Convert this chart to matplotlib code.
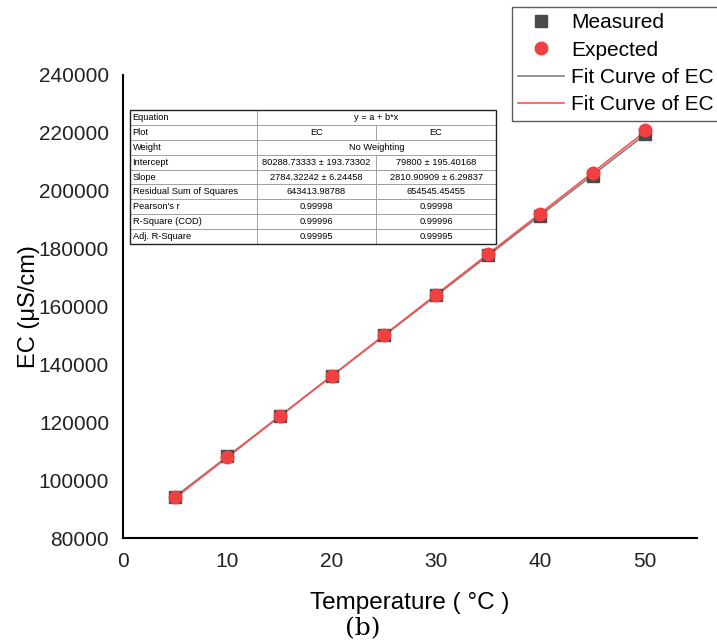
import numpy as np
import matplotlib.pyplot as plt

plt.rcParams['font.family'] = ['Liberation Sans', 'DejaVu Sans']

temperature = [5, 10, 15, 20, 25, 30, 35, 40, 45, 50]
measured = [94200, 108200, 122000, 136000, 150000, 163900, 177800, 191400, 205000, 219600]
expected = [94000, 108000, 122000, 136000, 150000, 164000, 178000, 192000, 206000, 221000]

table_rows = ['Equation', 'Plot', 'Weight', 'Intercept', 'Slope',
              'Residual Sum of Squares', "Pearson's r", 'R-Square (COD)', 'Adj. R-Square']
table_col1 = ['y = a + b*x', 'EC', 'No Weighting', '80288.73333 \u00b1 193.73302',
              '2784.32242 \u00b1 6.24458', '643413.98788', '0.99998', '0.99996', '0.99995']
table_col2 = ['', 'EC', '', '79800 \u00b1 195.40168', '2810.90909 \u00b1 6.29837',
              '654545.45455', '0.99998', '0.99996', '0.99995']
merged = [0, 2]

fig = plt.figure(figsize=(7.17, 6.44), dpi=100)
ax = fig.add_axes([123 / 717, 106 / 644, 574 / 717, 463 / 644])

x = np.array(temperature, dtype=float)
km, bm = np.polyfit(x, measured, 1)
ke, be = np.polyfit(x, expected, 1)
xf = np.array([x.min(), x.max()])

ax.plot(xf, bm + km * xf, color='#7f7f7f', lw=1.2, label='Fit Curve of EC', zorder=2)
ax.plot(xf, be + ke * xf, color='#ff5050', lw=1.2, label='Fit Curve of EC', zorder=2)
ax.plot(x, measured, 's', color='#4a4a4a', ms=8, ls='none', label='Measured', zorder=3)
ax.plot(x, expected, 'o', color='#f04040', ms=9, ls='none', label='Expected', zorder=4)

ax.set_xlim(0, 55)
ax.set_ylim(80000, 240000)
ax.set_xticks(np.arange(0, 51, 10))
ax.set_yticks(np.arange(80000, 240001, 20000))
ax.tick_params(length=0, labelsize=15, pad=10, colors='#222222')
for s in ['top', 'right']:
    ax.spines[s].set_visible(False)
for s in ['left', 'bottom']:
    ax.spines[s].set_linewidth(1.5)

ax.set_xlabel('Temperature ( \u00b0C )', fontsize=17.5, labelpad=15)
ax.set_ylabel('EC (\u03bcS/cm)', fontsize=17, labelpad=-1)
fig.text(363 / 717, 1 - 629 / 644, '(b)', fontsize=18, ha='center', va='center',
         family=['DejaVu Serif'])

# table
cells = [[r, a, b] for r, a, b in zip(table_rows, table_col1, table_col2)]
tx0, tx1 = 130 / 717, 496 / 717
ty0, ty1 = 1 - 244 / 644, 1 - 110 / 644
tab = plt.table(cellText=cells, cellLoc='center', colWidths=[127, 119, 120],
                bbox=[tx0, ty0, tx1 - tx0, ty1 - ty0], transform=fig.transFigure)
tab.auto_set_font_size(False)
tab.set_fontsize(6.7)
for (r, c), cell in tab.get_celld().items():
    cell.set_edgecolor('#9a9a9a')
    cell.set_linewidth(0.6)
    if c == 0:
        cell._loc = 'left'
        cell.PAD = 0.02
        cell.get_text().set_ha('left')
    if r in merged and c == 1:
        cell.visible_edges = 'BTL'
    if r in merged and c == 2:
        cell.visible_edges = 'BTR'
for r in merged:
    cx = tx0 + (127 + 119.5) / 366 * (tx1 - tx0)
    cy = ty1 - (r + 0.5) / 9 * (ty1 - ty0)
    fig.text(cx, cy, table_col1[r], fontsize=6.7, ha='center', va='center')
    tab[r, 1].get_text().set_text('')
fig.patches.append(plt.Rectangle((tx0, ty0), tx1 - tx0, ty1 - ty0, transform=fig.transFigure,
                                 fill=False, edgecolor='#222222', lw=1.0))

h, l = ax.get_legend_handles_labels()
order = [2, 3, 0, 1]
leg = fig.legend([h[i] for i in order], [l[i] for i in order],
                 loc='upper left', bbox_to_anchor=(512 / 717, 1 - 7 / 644),
                 fontsize=15, frameon=True, fancybox=False, edgecolor='#333333',
                 handlelength=2.2, handletextpad=0.35, borderpad=0.3, labelspacing=0.4,
                 borderaxespad=0)
leg.get_frame().set_linewidth(1.0)

fig.savefig('out.png', dpi=100)
